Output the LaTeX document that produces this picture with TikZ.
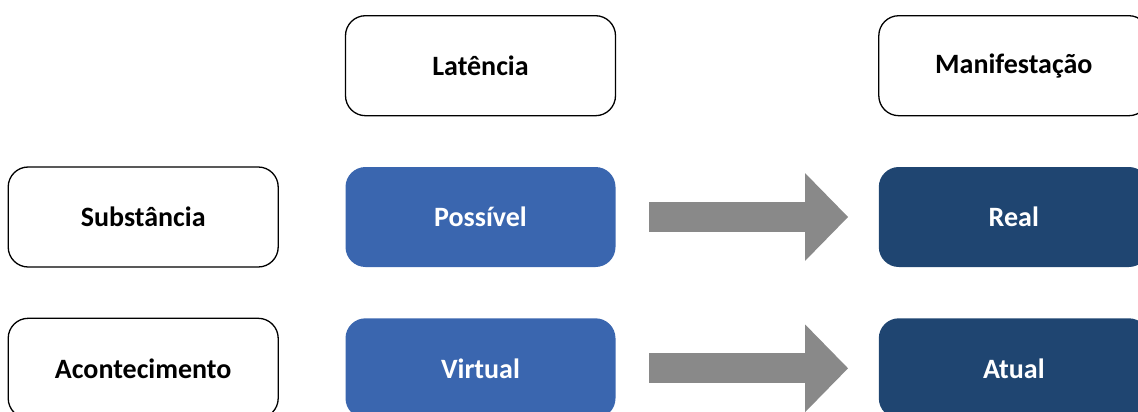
\documentclass[tikz,border=0pt]{standalone}
\usepackage{fontspec}
\setmainfont{Carlito}
\usetikzlibrary{positioning,arrows.meta}
\definecolor{latblue}{HTML}{3A66AF}
\definecolor{mannavy}{HTML}{1F4571}
\definecolor{flowgray}{HTML}{898989}

\begin{document}
\begin{tikzpicture}[x=1pt,y=-1pt,node distance=50pt and 66pt,font=\bfseries\fontsize{28}{33}\selectfont]
    \tikzstyle{box}=[draw, rounded corners=20pt, minimum width=270pt, minimum height=100pt, line width=1.3pt, inner sep=0pt]
    \tikzstyle{latent}=[box, draw=none, fill=latblue, text=white]
    \tikzstyle{manifest}=[box, draw=none, fill=mannavy, text=white]
    \tikzstyle{flow}=[line width=30pt, flowgray, -{Triangle[length=43pt,width=85pt]}]

    \clip (0,0) rectangle (1138,412);

    \node[latent] (P) at (480.5,217) {Possível};
    \node[box] (L) [above=of P] {Latência};
    \node[box] (S) [left=of P] {Substância};
    \node[latent] (V) [below=of P] {Virtual};
    \node[box] (A) [below=of S] {Acontecimento};
    \node[manifest] (R) [right=262pt of P] {Real};
    \node[box] (M) [above=of R] {Manifestação};
    \node[manifest] (T) [below=of R] {Atual};

    \draw[flow] ([xshift=33pt]P.east) -- ([xshift=-30pt]R.west);
    \draw[flow] ([xshift=33pt]V.east) -- ([xshift=-30pt]T.west);

\end{tikzpicture}
\end{document}
